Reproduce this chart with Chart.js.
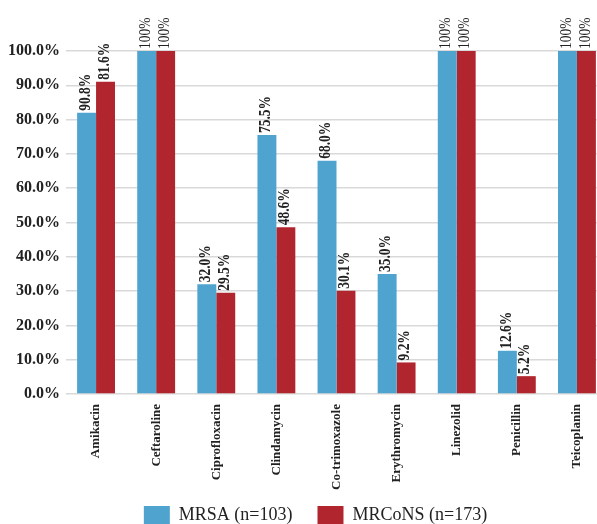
<!DOCTYPE html>
<html>
<head>
<meta charset="utf-8">
<script src="https://cdn.jsdelivr.net/npm/chart.js@4"></script>
<style>
  body { margin:0; background:#fff; overflow:hidden; }
  #wrap { width:597px; height:524px; overflow:hidden; position:relative; }
  #box { width:607px; height:547px; position:absolute; left:0; top:0; }
</style>
</head>
<body>
<div id="wrap"><div id="box"><canvas id="resChart"></canvas></div></div>
<script>
// drugs along the x-axis
var drugs = ["Amikacin", "Ceftaroline", "Ciprofloxacin", "Clindamycin", "Co-trimoxazole", "Erythromycin", "Linezolid", "Penicillin", "Teicoplanin"];
var seriesNames = ["MRSA (n=103)", "MRCoNS (n=173)"];
// bar heights as drawn (%)
var mrsaValues = [82.0, 100, 32.0, 75.5, 68.0, 35.0, 100, 12.6, 100];
var mrconsValues = [91.0, 100, 29.5, 48.6, 30.1, 9.2, 100, 5.2, 100];
// text printed above each bar
var mrsaLabels = ["90.8%", "100%", "32.0%", "75.5%", "68.0%", "35.0%", "100%", "12.6%", "100%"];
var mrconsLabels = ["81.6%", "100%", "29.5%", "48.6%", "30.1%", "9.2%", "100%", "5.2%", "100%"];
var yTicks = [0, 10, 20, 30, 40, 50, 60, 70, 80, 90, 100];

var blue = "#4ea3cf";
var red = "#b0252e";
var serif = "'Liberation Serif', 'Times New Roman', serif";

var barLabels = {
  id: "barLabels",
  beforeDraw: function(chart) {
    // nudge the legend a little right and up
    var lg = chart.legend;
    lg.left += 12; lg.right += 12;
    lg.top -= 13; lg.bottom -= 13;
  },
  afterDatasetsDraw: function(chart) {
    var ctx = chart.ctx;
    var texts = [mrsaLabels, mrconsLabels];
    chart.data.datasets.forEach(function(ds, di) {
      var meta = chart.getDatasetMeta(di);
      meta.data.forEach(function(bar, i) {
        var t = texts[di][i];
        ctx.save();
        ctx.translate(bar.x - 1, bar.y - 2);
        ctx.rotate(-Math.PI / 2);
        ctx.scale(0.84, 1);  // narrow type like the original
        ctx.font = (t == "100%" ? "16px " : "bold 16px ") + serif;
        ctx.fillStyle = "#222";
        ctx.textAlign = "left";
        ctx.textBaseline = "middle";
        ctx.fillText(t, 0, 0);
        ctx.restore();
      });
    });
  }
};

new Chart(document.getElementById("resChart"), {
  type: "bar",
  data: {
    labels: drugs,
    datasets: [
      { label: seriesNames[0], data: mrsaValues, backgroundColor: blue, borderWidth: 0 },
      { label: seriesNames[1], data: mrconsValues, backgroundColor: red, borderWidth: 0 }
    ]
  },
  options: {
    responsive: true,
    maintainAspectRatio: false,
    animation: false,
    layout: { padding: { top: 51, left: 0, right: 0, bottom: 0 } },
    categoryPercentage: 0.63,
    barPercentage: 1.0,
    plugins: {
      tooltip: { enabled: false },
      legend: {
        position: "bottom",
        labels: {
          boxWidth: 26,
          boxHeight: 18,
          padding: 25,
          color: "#222",
          font: { family: serif, size: 18 }
        }
      }
    },
    scales: {
      x: {
        grid: { display: false },
        border: { display: false },
        ticks: {
          autoSkip: false,
          minRotation: 90,
          maxRotation: 90,
          padding: 2,
          color: "#222",
          font: { family: serif, size: 13, weight: "bold" }
        },
        afterFit: function(s) { s.height = 100; }
      },
      y: {
        min: 0,
        max: 100,
        afterBuildTicks: function(s) { s.ticks = yTicks.map(function(v) { return { value: v }; }); },
        grid: { color: "#d9d9d9", lineWidth: 1.5, drawTicks: false },
        border: { display: false },
        ticks: {
          padding: 6,
          color: "#222",
          font: { family: serif, size: 16, weight: "bold" },
          callback: function(v) { return v.toFixed(1) + "%"; }
        },
        afterFit: function(s) { s.width = 66; }
      }
    }
  },
  plugins: [barLabels]
});
</script>
</body>
</html>
